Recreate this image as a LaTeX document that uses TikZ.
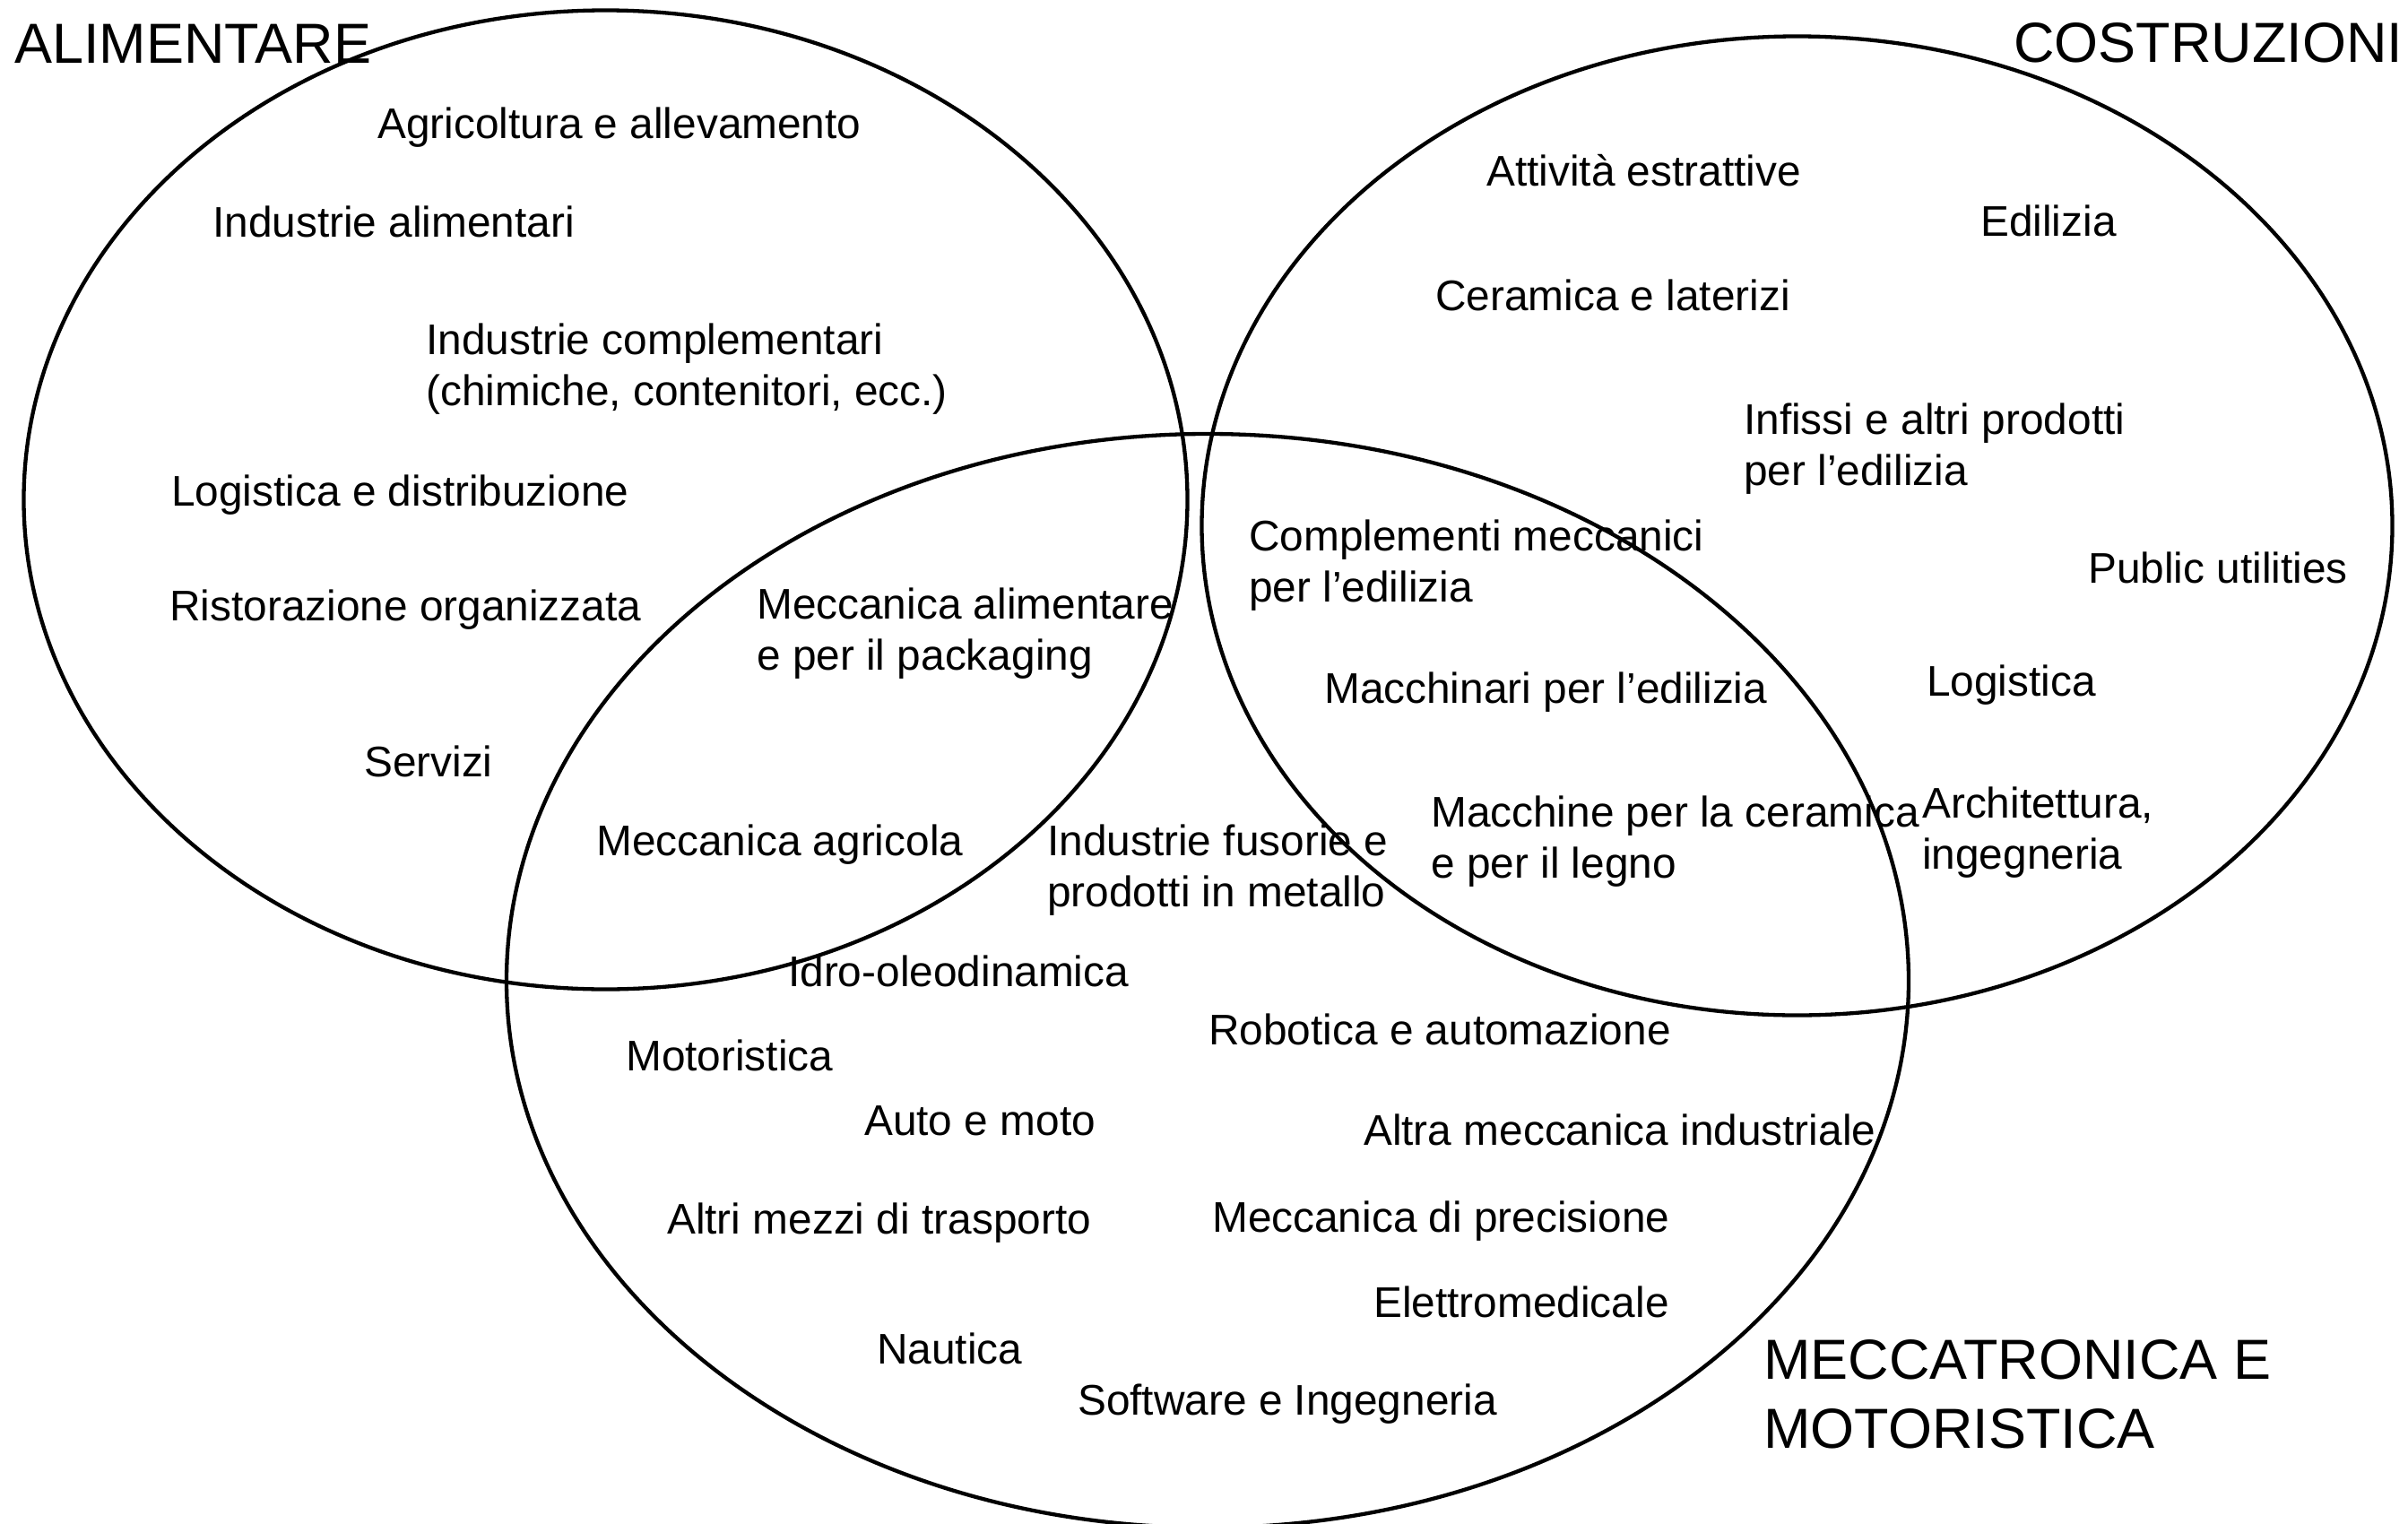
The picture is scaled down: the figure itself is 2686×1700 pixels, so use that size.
\documentclass[tikz,border=0pt]{standalone}
\usepackage{fontspec}
\setmainfont{Liberation Sans}
\newcommand{\twolines}[2]{\begin{tabular}[t]{@{}l@{}}#1\\#2\end{tabular}}
\begin{document}
\begin{tikzpicture}[x=1pt,y=-1pt,
  setring/.style={line width=4.3pt},
  item/.style={anchor=base west,inner sep=0pt,font=\fontsize{47.8}{57}\selectfont},
  settitle/.style={anchor=base west,inner sep=0pt,font=\fontsize{63}{77}\selectfont}]
\useasboundingbox[fill=white] (0,0) rectangle (2686,1700);
% sets
\draw[setring] (675.5,557.5) ellipse [x radius=649pt, y radius=546pt];
\draw[setring] (2004.5,586.5) ellipse [x radius=664pt, y radius=546pt];
\draw[setring] (1347,1094) ellipse [x radius=782pt, y radius=610pt];
% titles
\node[settitle] (tA) at (16,70) {ALIMENTARE};
\node[settitle] (tC) at (2246,69) {COSTRUZIONI};
\node[settitle] (tM) at (1967,1538) {\twolines{MECCATRONICA E}{MOTORISTICA}};
% alimentare
\node[item] (a1) at (421,154) {Agricoltura e allevamento};
\node[item] (a2) at (237,264) {Industrie alimentari};
\node[item] (a3) at (475,395) {\twolines{Industrie complementari}{(chimiche, contenitori, ecc.)}};
\node[item] (a4) at (191,564) {Logistica e distribuzione};
\node[item] (a5) at (189,692) {Ristorazione organizzata};
\node[item] (a6) at (406,866) {Servizi};
% alimentare & meccatronica
\node[item] (am1) at (844,690) {\twolines{Meccanica alimentare}{e per il packaging}};
\node[item] (am2) at (665,954) {Meccanica agricola};
% costruzioni
\node[item] (c1) at (1658,207) {Attività estrattive};
\node[item] (c2) at (2209,263) {Edilizia};
\node[item] (c3) at (1601,346) {Ceramica e laterizi};
\node[item] (c4) at (1945,484) {\twolines{Infissi e altri prodotti}{per l’edilizia}};
\node[item] (c5) at (2329,650) {Public utilities};
\node[item] (c6) at (2149,776) {Logistica};
\node[item] (c7) at (2144,912) {\twolines{Architettura,}{ingegneria}};
% costruzioni & meccatronica
\node[item] (cm1) at (1393,614) {\twolines{Complementi meccanici}{per l’edilizia}};
\node[item] (cm2) at (1477,784) {Macchinari per l’edilizia};
\node[item] (cm3) at (1596,922) {\twolines{Macchine per la ceramica}{e per il legno}};
% meccatronica
\node[item] (m1) at (1168,954) {\twolines{Industrie fusorie e}{prodotti in metallo}};
\node[item] (m2) at (879,1100) {Idro-oleodinamica};
\node[item] (m3) at (1348,1165) {Robotica e automazione};
\node[item] (m4) at (698,1194) {Motoristica};
\node[item] (m5) at (964,1266) {Auto e moto};
\node[item] (m6) at (1521,1277) {Altra meccanica industriale};
\node[item] (m7) at (744,1376) {Altri mezzi di trasporto};
\node[item] (m8) at (1352,1374) {Meccanica di precisione};
\node[item] (m9) at (1532,1469) {Elettromedicale};
\node[item] (m10) at (978,1521) {Nautica};
\node[item] (m11) at (1202,1578) {Software e Ingegneria};
\end{tikzpicture}
\end{document}
